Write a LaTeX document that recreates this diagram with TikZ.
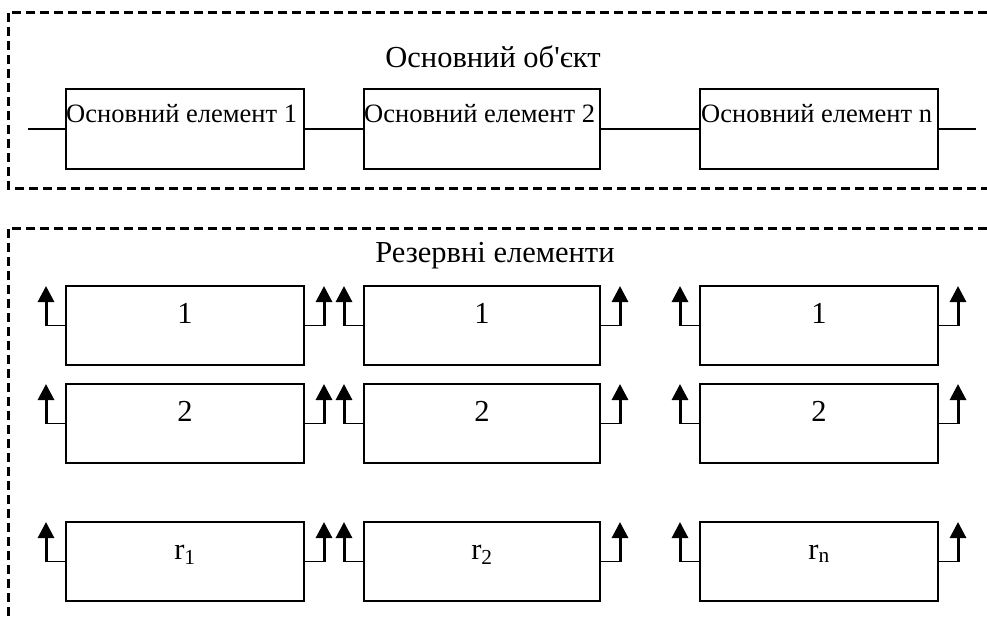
\documentclass[tikz,border=0pt]{standalone}
\usepackage{fontspec}
\setmainfont{Liberation Serif}[Ligatures=TeXOff]
\usetikzlibrary{arrows.meta,calc}
\begin{document}
\begin{tikzpicture}[x=1pt,y=-1pt,
  frame/.style={line width=3pt,dash pattern=on 9pt off 5pt},
  elbox/.style={draw,line width=1.3pt,minimum height=80pt,inner sep=0pt,outer sep=0pt},
  rbox/.style={draw,line width=1.3pt,minimum height=79pt,inner sep=0pt,outer sep=0pt},
  wire/.style={line width=1.3pt},
  uparrow/.style={line width=3pt,-{Triangle[width=16pt,length=16pt]}},
  txt/.style={inner sep=0pt,font=\fontsize{26.5}{30}\selectfont},
  big/.style={inner sep=0pt,font=\fontsize{30.5}{34}\selectfont}]
\useasboundingbox (0,0) rectangle (987,616);
% frames
\draw[frame] (987,12) -- (8,12) -- (8,188) -- (987,188);
\draw[frame] (987,228) -- (8,228) -- (8,616);
% titles
\node[big,anchor=base] (t1) at (493,67) {Основний об'єкт};
\node[big,anchor=base] (t2) at (495,262) {Резервні елементи};
% main elements
\node[elbox,minimum width=238pt] (b1) at (185,129) {};
\node[elbox,minimum width=236pt] (b2) at (482,129) {};
\node[elbox,minimum width=238pt] (bn) at (819,129) {};
\node[txt,anchor=base west] (l1) at ($(b1.north west)+(0,33)$) {Основний елемент 1};
\node[txt,anchor=base west] (l2) at ($(b2.north west)+(0,33)$) {Основний елемент 2};
\node[txt,anchor=base west] (ln) at ($(bn.north west)+(1,33)$) {Основний елемент n};
\coordinate (in) at (28,129);
\coordinate (out) at (976,129);
\draw[wire] (in) -- (b1.west);
\draw[wire] (b1.east) -- (b2.west);
\draw[wire] (b2.east) -- (bn.west);
\draw[wire] (bn.east) -- (out);
% reserve elements
\foreach \c/\x/\w/\s in {1/185/238/1, 2/482/236/2, 3/819/238/n}{
  \foreach \r/\y/\lab in {1/325.5/1, 2/423.5/2, 3/561.5/{r\textsubscript{\s}}}{
    \node[rbox,minimum width=\w pt] (r\c\r) at (\x,\y) {};
    \node[big,anchor=base] (rl\c\r) at ($(r\c\r.north)+(0,37)$) {\lab};
    \coordinate (lw\c\r) at ($(r\c\r.west)+(-20,0)$);
    \coordinate (lt\c\r) at ($(r\c\r.north west)+(-20,0)$);
    \coordinate (rw\c\r) at ($(r\c\r.east)+(20,0)$);
    \coordinate (rt\c\r) at ($(r\c\r.north east)+(20,0)$);
    \draw[wire] (r\c\r.west) -- (lw\c\r);
    \draw[wire] (r\c\r.east) -- (rw\c\r);
    \draw[uparrow] ($(lw\c\r)+(0,0.65)$) -- (lt\c\r);
    \draw[uparrow] ($(rw\c\r)+(0,0.65)$) -- (rt\c\r);
  }
}
\end{tikzpicture}
\end{document}
